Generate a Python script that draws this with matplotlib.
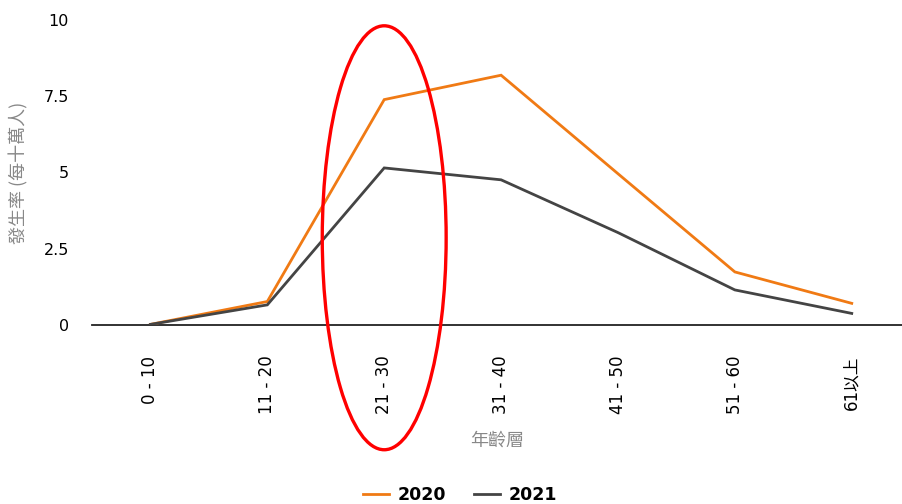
import matplotlib
matplotlib.use("Agg")
import matplotlib.pyplot as plt
from matplotlib.patches import Ellipse

plt.rcParams['font.family'] = ['DejaVu Sans', 'Noto Sans CJK TC']

categories = ["0 - 10", "11 - 20", "21 - 30", "31 - 40", "41 - 50", "51 - 60", "61以上"]
values_2020 = [0.02, 0.77, 7.39, 8.19, 4.96, 1.74, 0.71]
values_2021 = [0.02, 0.66, 5.15, 4.76, 3.03, 1.15, 0.38]
yticks = [0, 2.5, 5, 7.5, 10]
ytick_labels = ["0", "2.5", "5", "7.5", "10"]

fig = plt.figure(figsize=(9.02, 5.04), dpi=100)
ax = fig.add_axes([92/902, 1-325/504, (902-92)/902, (325-20)/504])

x = list(range(len(categories)))
ax.plot(x, values_2020, color="#F07A14", lw=2.0, label="2020", solid_joinstyle='miter', zorder=3)
ax.plot(x, values_2021, color="#444444", lw=2.0, label="2021", solid_joinstyle='miter', zorder=3)

ax.set_xlim(-0.5, 6.43)
ax.set_ylim(0, 10)
for s in ["top", "right", "left"]:
    ax.spines[s].set_visible(False)
ax.spines["bottom"].set_color("#222222")
ax.spines["bottom"].set_linewidth(1.3)
ax.spines["bottom"].set_zorder(2)

ax.set_yticks(yticks)
ax.set_yticklabels(ytick_labels, fontsize=11.5)
ax.set_xticks(x)
ax.set_xticklabels(categories, rotation=90, fontsize=12, va="top",
                   family=['DejaVu Sans', 'Noto Sans CJK TC'])
ax.tick_params(axis="both", length=0)
ax.tick_params(axis="x", pad=22)
ax.tick_params(axis="y", pad=16.5)

ax.set_ylabel("發生率 (每十萬人)", fontsize=13, color="#888888",
              family=['Noto Sans CJK TC', 'DejaVu Sans'])
ax.yaxis.set_label_coords(-0.079, 0.50)
ax.set_xlabel("年齡層", fontsize=13, color="#888888",
              family=['Noto Sans CJK TC', 'DejaVu Sans'])
ax.xaxis.set_label_coords(0.5, -0.35)

ell = Ellipse((2, 2.86), width=1.06, height=13.9, fill=False, edgecolor="#FF0000",
              lw=2.4, clip_on=False, zorder=5)
ax.add_patch(ell)

leg = fig.legend(loc="center", bbox_to_anchor=(460/902, 1-495/504), ncol=2, frameon=False,
                 prop={"weight": "bold", "size": 12.5}, handlelength=1.5, columnspacing=1.6,
                 handletextpad=0.5)

fig.savefig("out.png", dpi=100)
